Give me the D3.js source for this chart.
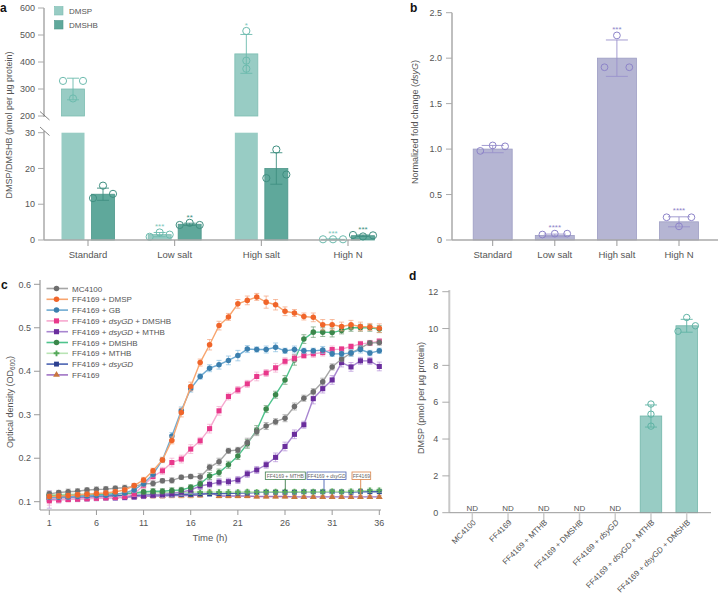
<!DOCTYPE html>
<html><head><meta charset="utf-8">
<script src="https://cdn.jsdelivr.net/npm/d3@7"></script>
<style>body{margin:0;background:#fff}svg{display:block}text{font-family:"Liberation Sans",Arial,Helvetica,sans-serif}</style>
</head><body><svg id="fig" width="721" height="609"></svg>
<script>
// ---------------- DATA ----------------
// Panel a
const aCategories = ["Standard", "Low salt", "High salt", "High N"];
const aSeries = ["DMSP", "DMSHB"];
const aDMSPMean = [300, 1.5, 430, 0.2];
const aDMSPErr = [40, 0.6, 72, 0.1];
const aDMSPPoints = [[265, 330, 330], [0.9, 2.1, 1.5], [515, 405, 375], [0.2, 0.2, 0.2]];
const aDMSPStars = ["", "***", "*", "***"];
const aDMSHBMean = [12.8, 4.4, 20, 1.2];
const aDMSHBErr = [1.7, 0.3, 4.4, 0.2];
const aDMSHBPoints = [[11.7, 15.2, 12.9], [4.2, 4.8, 4.2], [17.3, 25.3, 18.3], [1.4, 1.0, 1.3]];
const aDMSHBStars = ["", "**", "", "***"];
const aTicksUpper = [200, 300, 400, 500, 600];
const aTicksLower = [0, 10, 20, 30];

// Panel b
const bCategories = ["Standard", "Low salt", "High salt", "High N"];
const bMean = [1.0, 0.05, 2.0, 0.2];
const bErr = [0.04, 0.015, 0.2, 0.055];
const bPoints = [[0.98, 1.04, 1.03], [0.06, 0.07, 0.07], [1.9, 2.25, 1.9], [0.25, 0.15, 0.25]];
const bStars = ["", "****", "***", "****"];
const bTicks = [0, 0.5, 1.0, 1.5, 2.0, 2.5];

// Panel c
const cTime = d3.range(1, 37);
const cTicksX = [1, 6, 11, 16, 21, 26, 31, 36];
const cTicksY = [0.1, 0.2, 0.3, 0.4, 0.5, 0.6];
const cNames = ["MC4100", "FF4169 + DMSP", "FF4169 + GB", "FF4169 + dsyGD + DMSHB", "FF4169 + dsyGD + MTHB",
  "FF4169 + DMSHB", "FF4169 + MTHB", "FF4169 + dsyGD", "FF4169"];
const cMC4100 = [0.118,0.121,0.123,0.124,0.127,0.128,0.129,0.131,0.132,0.135,0.141,0.142,0.148,0.149,0.156,0.158,0.157,0.179,0.192,0.217,0.219,0.236,0.261,0.274,0.284,0.292,0.319,0.338,0.353,0.376,0.41,0.428,0.442,0.453,0.465,0.466];
const cDMSP = [0.112,0.113,0.114,0.116,0.117,0.119,0.12,0.123,0.127,0.137,0.15,0.171,0.196,0.241,0.305,0.365,0.42,0.461,0.505,0.525,0.555,0.563,0.571,0.559,0.553,0.538,0.534,0.526,0.524,0.507,0.507,0.503,0.507,0.503,0.502,0.499];
const cGB = [0.11,0.11,0.111,0.112,0.113,0.114,0.115,0.117,0.12,0.127,0.142,0.163,0.196,0.251,0.31,0.36,0.388,0.407,0.415,0.425,0.436,0.451,0.45,0.45,0.455,0.447,0.45,0.447,0.447,0.449,0.44,0.44,0.442,0.45,0.442,0.447];
const cDsyDMSHB = [0.102,0.104,0.105,0.106,0.107,0.108,0.109,0.11,0.112,0.118,0.138,0.158,0.171,0.19,0.198,0.221,0.24,0.268,0.309,0.342,0.357,0.371,0.388,0.396,0.408,0.423,0.43,0.436,0.44,0.443,0.45,0.451,0.457,0.463,0.465,0.469];
const cDsyMTHB = [0.105,0.105,0.106,0.106,0.107,0.108,0.109,0.109,0.11,0.111,0.113,0.115,0.117,0.119,0.122,0.127,0.136,0.14,0.145,0.146,0.15,0.164,0.173,0.185,0.202,0.227,0.255,0.277,0.337,0.36,0.38,0.42,0.41,0.424,0.424,0.411];
const cDMSHB = [0.114,0.114,0.115,0.115,0.116,0.116,0.117,0.118,0.119,0.12,0.123,0.124,0.124,0.126,0.127,0.133,0.141,0.159,0.167,0.185,0.205,0.233,0.265,0.313,0.346,0.38,0.426,0.474,0.49,0.49,0.489,0.494,0.5,0.5,0.5,0.497];
const cMTHB = [0.116,0.116,0.117,0.117,0.117,0.118,0.118,0.118,0.119,0.119,0.12,0.12,0.121,0.121,0.121,0.122,0.122,0.122,0.122,0.122,0.122,0.123,0.122,0.123,0.123,0.123,0.123,0.123,0.123,0.123,0.124,0.123,0.124,0.125,0.126,0.126];
const cDsyGD = [0.112,0.112,0.112,0.113,0.113,0.113,0.114,0.114,0.114,0.115,0.115,0.116,0.116,0.116,0.117,0.117,0.118,0.118,0.119,0.119,0.12,0.12,0.121,0.122,0.122,0.122,0.122,0.123,0.123,0.123,0.123,0.123,0.122,0.123,0.123,0.123];
const cFF4169 = [0.109,0.109,0.11,0.11,0.11,0.111,0.111,0.111,0.112,0.112,0.113,0.113,0.113,0.114,0.114,0.114,0.115,0.121,0.113,0.113,0.113,0.113,0.112,0.112,0.112,0.112,0.111,0.111,0.111,0.111,0.111,0.111,0.111,0.111,0.111,0.111];
const cErrMC4100 = [0.006,0.005,0.006,0.006,0.005,0.006,0.006,0.005,0.006,0.006,0.005,0.006,0.005,0.006,0.005,0.005,0.008,0.007,0.008,0.006,0.006,0.01,0.009,0.008,0.007,0.008,0.008,0.007,0.007,0.008,0.007,0.006,0.006,0.006,0.005,0.006];
const cErrDMSP = [0.005,0.005,0.005,0.005,0.005,0.005,0.005,0.005,0.005,0.005,0.006,0.006,0.006,0.008,0.01,0.01,0.008,0.012,0.01,0.008,0.01,0.01,0.008,0.014,0.012,0.01,0.008,0.008,0.01,0.012,0.012,0.01,0.01,0.01,0.008,0.01];
const cErrGB = [0.005,0.005,0.005,0.005,0.005,0.005,0.005,0.005,0.005,0.006,0.006,0.006,0.006,0.008,0.008,0.008,0.006,0.008,0.01,0.01,0.012,0.008,0.006,0.008,0.01,0.006,0.008,0.006,0.006,0.008,0.006,0.006,0.008,0.008,0.006,0.006];
const cErrDsyDMSHB = [0.01,0.006,0.005,0.005,0.005,0.005,0.005,0.005,0.005,0.006,0.008,0.008,0.008,0.01,0.009,0.01,0.008,0.01,0.01,0.008,0.008,0.008,0.01,0.008,0.01,0.008,0.008,0.006,0.008,0.008,0.008,0.006,0.006,0.006,0.006,0.006];
const cErrDsyMTHB = [0.02,0.008,0.006,0.006,0.006,0.006,0.006,0.006,0.006,0.006,0.006,0.006,0.008,0.008,0.008,0.008,0.008,0.008,0.008,0.008,0.008,0.008,0.008,0.008,0.01,0.01,0.01,0.008,0.012,0.01,0.01,0.01,0.01,0.008,0.008,0.01];
const cErrDMSHB = [0.006,0.005,0.005,0.005,0.005,0.005,0.005,0.005,0.005,0.005,0.006,0.006,0.006,0.006,0.006,0.006,0.006,0.008,0.008,0.008,0.008,0.01,0.01,0.008,0.008,0.01,0.012,0.01,0.012,0.01,0.01,0.008,0.008,0.008,0.008,0.008];
const cErrMTHB = [0.006,0.005,0.005,0.005,0.005,0.005,0.005,0.005,0.005,0.005,0.005,0.005,0.005,0.005,0.005,0.005,0.005,0.005,0.005,0.005,0.005,0.005,0.005,0.005,0.005,0.005,0.005,0.005,0.005,0.005,0.005,0.005,0.005,0.005,0.005,0.005];
const cErrDsyGD = [0.006,0.005,0.005,0.005,0.005,0.005,0.005,0.005,0.005,0.005,0.005,0.005,0.005,0.005,0.005,0.005,0.005,0.005,0.004,0.004,0.004,0.004,0.004,0.004,0.004,0.004,0.004,0.004,0.004,0.004,0.004,0.004,0.004,0.004,0.004,0.004];
const cErrFF4169 = [0.006,0.005,0.005,0.005,0.005,0.005,0.005,0.005,0.005,0.005,0.005,0.005,0.005,0.005,0.005,0.005,0.005,0.005,0.004,0.004,0.004,0.004,0.004,0.004,0.004,0.004,0.003,0.003,0.003,0.003,0.003,0.003,0.003,0.003,0.003,0.003];
const cAnnotations = ["FF4169 + MTHB", "FF4169 + dsyGD", "FF4169"];

// Panel d
const dCategories = ["MC4100", "FF4169", "FF4169 + MTHB", "FF4169 + DMSHB", "FF4169 + dsyGD", "FF4169 + dsyGD + MTHB", "FF4169 + dsyGD + DMSHB"];
const dMean = [null, null, null, null, null, 5.25, 10.15];
const dErr = [null, null, null, null, null, 0.6, 0.35];
const dPoints = [[], [], [], [], [], [5.9, 5.35, 4.7], [9.85, 10.6, 10.15]];
const dTicks = [0, 2, 4, 6, 8, 10, 12];

// ---------------- HELPERS ----------------
const svg = d3.select("#fig");
const TXT = "#555";
const AX = "#aaa";

function rich(sel, str) {
  const parts = str.split(/(dsyGD|dsyG)/);
  parts.forEach(p => { if (p) sel.append("tspan").text(p).attr("font-style", /^dsyG/.test(p) ? "italic" : null); });
  return sel;
}
// cluster colliding points into slots
function slots(vals, yFn, r) {
  const n = vals.length, ys = vals.map(yFn);
  const g = vals.map((_, i) => i);
  const find = i => g[i] === i ? i : (g[i] = find(g[i]));
  for (let i = 0; i < n; i++) for (let j = i + 1; j < n; j++)
    if (Math.abs(ys[i] - ys[j]) < 2 * r) g[find(i)] = find(j);
  const groups = {};
  vals.forEach((_, i) => { const k = find(i); (groups[k] = groups[k] || []).push(i); });
  const out = new Array(n).fill(0);
  Object.values(groups).forEach(idx => {
    if (idx.length === 2) { out[idx[0]] = -1; out[idx[1]] = 1; }
    else if (idx.length >= 3) idx.forEach((ii, k) => out[ii] = k - (idx.length - 1) / 2);
  });
  return out;
}
function panelLabel(t, x, y) {
  svg.append("text").attr("x", x).attr("y", y).attr("font-size", 12).attr("font-weight", "bold").attr("fill", "#111").text(t);
}
function yLabel(x, y, build) {
  const t = svg.append("text").attr("transform", `translate(${x},${y}) rotate(-90)`).attr("text-anchor", "middle")
    .attr("font-size", 9).attr("fill", TXT);
  build(t);
}

// ---------------- PANEL A ----------------
(function () {
  const axisX = 44, baseY = 240;
  const yU = d3.scaleLinear().domain([200, 600]).range([116, 8]);
  const yL = d3.scaleLinear().domain([0, 30]).range([240, 132.7]);
  const yv = v => v <= 30 ? yL(v) : yU(v);
  const x = d3.scalePoint().domain(aCategories).range([88, 348]);
  const g = svg.append("g");
  const colors = { DMSP: { fill: "#98ccc4", stroke: "#7dbdb2", pt: "#6cbbae", star: "#7cc6ba" },
                   DMSHB: { fill: "#5fa89b", stroke: "#4d968a", pt: "#3f8f81", star: "#3f8f81" } };
  const bw = 23, off = 15;
  // axes
  g.append("line").attr("x1", axisX).attr("x2", axisX).attr("y1", yU(600)).attr("y2", 117).attr("stroke", AX).attr("stroke-width", 1.5);
  g.append("line").attr("x1", axisX).attr("x2", axisX).attr("y1", 131).attr("y2", baseY).attr("stroke", AX).attr("stroke-width", 1.5);
  g.append("line").attr("x1", 40).attr("x2", 49.5).attr("y1", 111.5).attr("y2", 120).attr("stroke", "#666").attr("stroke-width", 0.8);
  g.append("line").attr("x1", 40).attr("x2", 49.5).attr("y1", 127).attr("y2", 135.5).attr("stroke", "#666").attr("stroke-width", 0.8);
  aTicksUpper.forEach(t => {
    g.append("line").attr("x1", axisX - 6).attr("x2", axisX).attr("y1", yU(t)).attr("y2", yU(t)).attr("stroke", AX);
    g.append("text").attr("x", axisX - 9).attr("y", yU(t) + 3.2).attr("text-anchor", "end").attr("font-size", 9).attr("fill", TXT).text(t);
  });
  aTicksLower.forEach(t => {
    g.append("line").attr("x1", axisX - 6).attr("x2", axisX).attr("y1", yL(t)).attr("y2", yL(t)).attr("stroke", AX);
    g.append("text").attr("x", axisX - 9).attr("y", yL(t) + 3.2).attr("text-anchor", "end").attr("font-size", 9).attr("fill", TXT).text(t);
  });
  // bars
  const sets = [
    { key: "DMSP", mean: aDMSPMean, err: aDMSPErr, pts: aDMSPPoints, stars: aDMSPStars, dx: -off },
    { key: "DMSHB", mean: aDMSHBMean, err: aDMSHBErr, pts: aDMSHBPoints, stars: aDMSHBStars, dx: off }];
  sets.forEach(s => {
    const c = colors[s.key];
    aCategories.forEach((cat, i) => {
      const cx = x(cat) + s.dx, v = s.mean[i];
      if (v > 30) {
        g.append("rect").attr("x", cx - bw / 2).attr("width", bw).attr("y", yL(30)).attr("height", yL(0) - yL(30)).attr("fill", c.fill);
        g.append("rect").attr("x", cx - bw / 2).attr("width", bw).attr("y", yU(v)).attr("height", yU(200) - yU(v)).attr("fill", c.fill)
          .attr("stroke", c.stroke).attr("stroke-width", 0.8);
      } else {
        g.append("rect").attr("x", cx - bw / 2).attr("width", bw).attr("y", yL(v)).attr("height", yL(0) - yL(v)).attr("fill", c.fill)
          .attr("stroke", c.stroke).attr("stroke-width", 0.8);
      }
      const lo = yv(v - s.err[i]), hi = yv(v + s.err[i]);
      g.append("line").attr("x1", cx).attr("x2", cx).attr("y1", lo).attr("y2", hi).attr("stroke", c.pt).attr("stroke-width", 0.9);
      [lo, hi].forEach(yy => g.append("line").attr("x1", cx - 6).attr("x2", cx + 6).attr("y1", yy).attr("y2", yy).attr("stroke", c.pt).attr("stroke-width", 0.9));
      const sl = slots(s.pts[i], yv, 3.6);
      s.pts[i].forEach((p, k) => g.append("circle").attr("cx", cx + sl[k] * 10).attr("cy", yv(p)).attr("r", 3.6)
        .attr("fill", "none").attr("stroke", c.pt).attr("stroke-width", 1));
      if (s.stars[i]) {
        const top = Math.min(hi, ...s.pts[i].map(yv)) - 6;
        g.append("text").attr("x", cx).attr("y", top + 3).attr("text-anchor", "middle").attr("font-size", 8).attr("fill", c.star).text(s.stars[i]);
      }
    });
  });
  g.append("line").attr("x1", axisX).attr("x2", 360).attr("y1", baseY).attr("y2", baseY).attr("stroke", AX).attr("stroke-width", 1.5);
  aCategories.forEach(cat => {
    g.append("line").attr("x1", x(cat)).attr("x2", x(cat)).attr("y1", baseY).attr("y2", baseY + 6).attr("stroke", "#999");
    g.append("text").attr("x", x(cat)).attr("y", 258).attr("text-anchor", "middle").attr("font-size", 9.5).attr("fill", TXT).text(cat);
  });
  // legend
  aSeries.forEach((s, i) => {
    g.append("rect").attr("x", 54.5).attr("y", 6.5 + i * 14).attr("width", 8.5).attr("height", 8.5).attr("fill", colors[s].fill).attr("stroke", colors[s].stroke).attr("stroke-width", 0.6);
    g.append("text").attr("x", 69).attr("y", 14 + i * 14).attr("font-size", 8).attr("fill", TXT).text(s);
  });
  yLabel(12, 125, t => t.text("DMSP/DMSHB (pmol per µg protein)"));
  panelLabel("a", 0, 12);
})();

// ---------------- PANEL B ----------------
(function () {
  const axisX = 452, baseY = 240;
  const y = d3.scaleLinear().domain([0, 2.5]).range([baseY, 12.7]);
  const x = d3.scalePoint().domain(bCategories).range([492.7, 679]);
  const g = svg.append("g");
  const bw = 39;
  g.append("line").attr("x1", axisX).attr("x2", axisX).attr("y1", y(2.5)).attr("y2", baseY).attr("stroke", AX).attr("stroke-width", 1.5);
  bTicks.forEach(t => {
    g.append("line").attr("x1", axisX - 6).attr("x2", axisX).attr("y1", y(t)).attr("y2", y(t)).attr("stroke", AX);
    g.append("text").attr("x", axisX - 10).attr("y", y(t) + 3.2).attr("text-anchor", "end").attr("font-size", 9).attr("fill", TXT).text(t === 0 ? "0" : d3.format(".1f")(t));
  });
  bCategories.forEach((cat, i) => {
    const cx = x(cat), v = bMean[i];
    g.append("rect").attr("x", cx - bw / 2).attr("width", bw).attr("y", y(v)).attr("height", baseY - y(v))
      .attr("fill", "#b5b5d3").attr("stroke", "#9d9dc3").attr("stroke-width", 0.8);
    const lo = y(v - bErr[i]), hi = y(v + bErr[i]);
    g.append("line").attr("x1", cx).attr("x2", cx).attr("y1", lo).attr("y2", hi).attr("stroke", "#9a92cc").attr("stroke-width", 0.9);
    [lo, hi].forEach(yy => g.append("line").attr("x1", cx - 11).attr("x2", cx + 11).attr("y1", yy).attr("y2", yy).attr("stroke", "#9a92cc").attr("stroke-width", 0.9));
    const sl = slots(bPoints[i], y, 3.4);
    bPoints[i].forEach((p, k) => g.append("circle").attr("cx", cx + sl[k] * 12.4).attr("cy", y(p)).attr("r", 3.4)
      .attr("fill", "none").attr("stroke", "#8d84c9").attr("stroke-width", 1));
    if (bStars[i]) {
      const top = Math.min(hi, ...bPoints[i].map(y)) - 6;
      g.append("text").attr("x", cx).attr("y", top + 2.5).attr("text-anchor", "middle").attr("font-size", 8).attr("fill", "#8d84c9").text(bStars[i]);
    }
  });
  g.append("line").attr("x1", axisX).attr("x2", 718).attr("y1", baseY).attr("y2", baseY).attr("stroke", AX).attr("stroke-width", 1.5);
  bCategories.forEach(cat => {
    g.append("line").attr("x1", x(cat)).attr("x2", x(cat)).attr("y1", baseY).attr("y2", baseY + 6).attr("stroke", "#999");
    g.append("text").attr("x", x(cat)).attr("y", 258).attr("text-anchor", "middle").attr("font-size", 9.5).attr("fill", TXT).text(cat);
  });
  yLabel(418, 122, t => rich(t, "Normalized fold change (dsyG)"));
  panelLabel("b", 410, 12);
})();

// ---------------- PANEL C ----------------
(function () {
  const axisX = 40, baseY = 510;
  const x = d3.scaleLinear().domain([1, 36]).range([49.3, 379.3]);
  const y = d3.scaleLinear().domain([0.1, 0.6]).range([501.7, 284.3]);
  const g = svg.append("g");
  const data = [cMC4100, cDMSP, cGB, cDsyDMSHB, cDsyMTHB, cDMSHB, cMTHB, cDsyGD, cFF4169];
  const errs = [cErrMC4100, cErrDMSP, cErrGB, cErrDsyDMSHB, cErrDsyMTHB, cErrDMSHB, cErrMTHB, cErrDsyGD, cErrFF4169];
  const styles = [
    { line: "#a6a6a6", mk: "#6e6e6e", err: "#9a9a9a", sym: d3.symbolCircle, size: 24 },
    { line: "#f8a56e", mk: "#f0652a", err: "#f5a07a", sym: d3.symbolCircle, size: 24 },
    { line: "#6fabd2", mk: "#3b7fae", err: "#86bde0", sym: d3.symbolCircle, size: 24 },
    { line: "#f7a8cf", mk: "#e8388b", err: "#f2a6cb", sym: d3.symbolSquare, size: 26 },
    { line: "#a886d0", mk: "#6a2d9d", err: "#b58fd9", sym: d3.symbolSquare, size: 26 },
    { line: "#4fc48c", mk: "#3b874b", err: "#6a9a70", sym: d3.symbolCircle, size: 24 },
    { line: "#b9e4b4", mk: "#55a85a", err: "#a5d6a0", sym: d3.symbolCross, size: 18 },
    { line: "#4a63b2", mk: "#2b3f8f", err: "#7f95d0", sym: d3.symbolSquare, size: 24 },
    { line: "#a073c4", mk: "#c9763e", err: "#d99a6e", sym: d3.symbolTriangle, size: 20 }];
  // axes
  g.append("line").attr("x1", axisX).attr("x2", axisX).attr("y1", 280).attr("y2", baseY).attr("stroke", "#999").attr("stroke-width", 1.2);
  g.append("line").attr("x1", axisX).attr("x2", 381).attr("y1", baseY).attr("y2", baseY).attr("stroke", "#999").attr("stroke-width", 1.2);
  cTicksY.forEach(t => {
    g.append("line").attr("x1", axisX - 6).attr("x2", axisX).attr("y1", y(t)).attr("y2", y(t)).attr("stroke", "#999");
    g.append("text").attr("x", axisX - 9).attr("y", y(t) + 3.2).attr("text-anchor", "end").attr("font-size", 9).attr("fill", TXT).text(d3.format(".1f")(t));
  });
  cTicksX.forEach(t => {
    g.append("line").attr("x1", x(t)).attr("x2", x(t)).attr("y1", baseY).attr("y2", baseY + 5).attr("stroke", "#999");
    g.append("text").attr("x", x(t)).attr("y", 526).attr("text-anchor", "middle").attr("font-size", 9).attr("fill", TXT).text(t);
  });
  g.append("text").attr("x", 210).attr("y", 541).attr("text-anchor", "middle").attr("font-size", 9.5).attr("fill", TXT).text("Time (h)");
  yLabel(13, 402, t => { t.append("tspan").text("Optical density (OD"); t.append("tspan").attr("font-size", 6.5).attr("dy", 2).text("600"); t.append("tspan").attr("dy", -2).text(")"); });
  // series
  const order = [8, 7, 6, 4, 5, 3, 0, 2, 1];
  order.forEach(si => {
    const vals = data[si], st = styles[si];
    const sg = g.append("g");
    vals.forEach((v, i) => {
      const cx = x(cTime[i]), e = errs[si][i];
      sg.append("line").attr("x1", cx).attr("x2", cx).attr("y1", y(v - e)).attr("y2", y(v + e)).attr("stroke", st.err).attr("stroke-width", 0.7);
      [v - e, v + e].forEach(w => sg.append("line").attr("x1", cx - 2.5).attr("x2", cx + 2.5).attr("y1", y(w)).attr("y2", y(w)).attr("stroke", st.err).attr("stroke-width", 0.7));
    });
    sg.append("path").attr("d", d3.line().x((d, i) => x(cTime[i])).y(d => y(d))(vals)).attr("fill", "none")
      .attr("stroke", st.line).attr("stroke-width", 1.4);
    vals.forEach((v, i) => sg.append("path").attr("d", d3.symbol(st.sym, st.size)()).attr("transform", `translate(${x(cTime[i])},${y(v)})`).attr("fill", st.mk));
  });
  // legend
  cNames.forEach((n, i) => {
    const yy = 288.5 + i * 10.8, st = styles[i];
    g.append("line").attr("x1", 46.5).attr("x2", 68).attr("y1", yy).attr("y2", yy).attr("stroke", st.line).attr("stroke-width", 1.6);
    g.append("path").attr("d", d3.symbol(st.sym, st.size)()).attr("transform", `translate(56.5,${yy})`).attr("fill", st.mk);
    rich(g.append("text").attr("x", 72).attr("y", yy + 3).attr("font-size", 8).attr("fill", TXT), n);
  });
  // annotations
  const ann = [
    { box: [265.3, 305.3], lx: 285.3, series: 6, tIdx: 25, col: "#3f7d4c" },
    { box: [307, 346], lx: 324, series: 7, tIdx: 29, col: "#4a63b2" },
    { box: [352, 370.7], lx: 360.7, series: 8, tIdx: 33, col: "#d9834a" }];
  ann.forEach((a, i) => {
    const by = 472;
    g.append("rect").attr("x", a.box[0]).attr("y", by).attr("width", a.box[1] - a.box[0]).attr("height", 7.5)
      .attr("fill", "#fff").attr("stroke", a.col).attr("stroke-width", 0.8);
    rich(g.append("text").attr("x", (a.box[0] + a.box[1]) / 2).attr("y", by + 5.5).attr("text-anchor", "middle").attr("font-size", 5).attr("fill", "#666"), cAnnotations[i]);
    g.append("line").attr("x1", a.lx).attr("x2", a.lx).attr("y1", by + 7.5).attr("y2", y(data[a.series][a.tIdx]) - 1).attr("stroke", a.col).attr("stroke-width", 0.9);
  });
  panelLabel("c", 1, 289);
})();

// ---------------- PANEL D ----------------
(function () {
  const axisX = 449.3, baseY = 512.7;
  const y = d3.scaleLinear().domain([0, 12]).range([baseY, 291.7]);
  const x = d3.scalePoint().domain(dCategories).range([472.3, 686.7]);
  const g = svg.append("g");
  const bw = 21.5;
  g.append("line").attr("x1", axisX).attr("x2", axisX).attr("y1", 290).attr("y2", baseY).attr("stroke", "#c8c8c8").attr("stroke-width", 2);
  dTicks.forEach(t => {
    g.append("line").attr("x1", axisX - 7).attr("x2", axisX).attr("y1", y(t)).attr("y2", y(t)).attr("stroke", "#aaa");
    g.append("text").attr("x", axisX - 11).attr("y", y(t) + 3.2).attr("text-anchor", "end").attr("font-size", 9).attr("fill", TXT).text(t);
  });
  dCategories.forEach((cat, i) => {
    const cx = x(cat), v = dMean[i];
    if (v == null) {
      g.append("text").attr("x", cx).attr("y", 511).attr("text-anchor", "middle").attr("font-size", 8).attr("fill", TXT).text("ND");
      return;
    }
    g.append("rect").attr("x", cx - bw / 2).attr("width", bw).attr("y", y(v)).attr("height", baseY - y(v))
      .attr("fill", "#98ccc4").attr("stroke", "#72b6aa").attr("stroke-width", 0.8);
    const lo = y(v - dErr[i]), hi = y(v + dErr[i]);
    g.append("line").attr("x1", cx).attr("x2", cx).attr("y1", lo).attr("y2", hi).attr("stroke", "#5fb3a5").attr("stroke-width", 0.9);
    [lo, hi].forEach(yy => g.append("line").attr("x1", cx - 6).attr("x2", cx + 6).attr("y1", yy).attr("y2", yy).attr("stroke", "#5fb3a5").attr("stroke-width", 0.9));
    const sl = slots(dPoints[i], y, 3.2);
    dPoints[i].forEach((p, k) => g.append("circle").attr("cx", cx + sl[k] * 8.7).attr("cy", y(p)).attr("r", 3.2)
      .attr("fill", "none").attr("stroke", "#5fb3a5").attr("stroke-width", 1));
  });
  g.append("line").attr("x1", axisX).attr("x2", 711).attr("y1", baseY).attr("y2", baseY).attr("stroke", "#999").attr("stroke-width", 1);
  dCategories.forEach(cat => {
    g.append("line").attr("x1", x(cat)).attr("x2", x(cat)).attr("y1", baseY).attr("y2", baseY + 9).attr("stroke", "#ccc").attr("stroke-width", 1.5);
    rich(g.append("text").attr("transform", `translate(${x(cat) + 4},${523}) rotate(-45)`).attr("text-anchor", "end")
      .attr("font-size", 8).attr("fill", TXT), cat);
  });
  yLabel(424, 398, t => t.text("DMSP (pmol per µg protein)"));
  panelLabel("d", 409, 280);
})();
</script></body></html>
